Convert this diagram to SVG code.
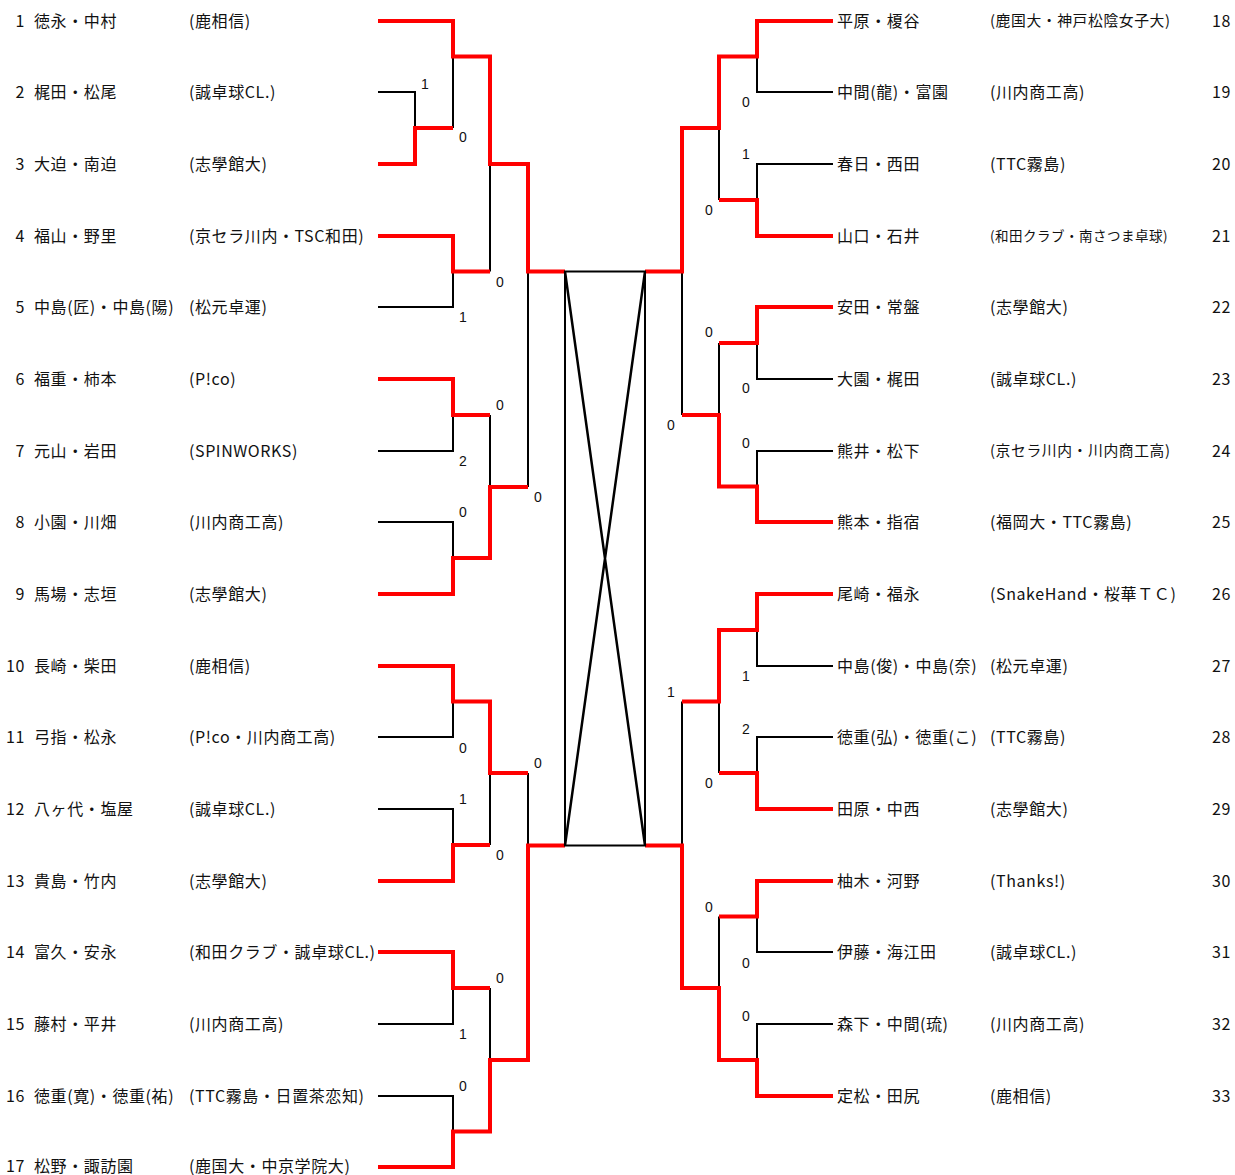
<svg xmlns="http://www.w3.org/2000/svg" width="1235" height="1175" viewBox="0 0 1235 1175">
<style>
.t{font-family:"Noto Sans CJK JP","Noto Sans CJK SC",sans-serif;font-size:16px;letter-spacing:0.6px;fill:#111}
.sm{font-size:13.5px;letter-spacing:0.5px}
.md{font-size:14.8px}
.e{text-anchor:end}
.s{font-family:"Liberation Sans",Arial,sans-serif;font-size:14px;fill:#111;text-anchor:middle}
.k{stroke:#000;stroke-width:2;fill:none}
.r{stroke:#f00;stroke-width:4;fill:none;stroke-linejoin:miter}
.x{stroke:#000;stroke-width:2.5;fill:none}
</style>
<rect width="1235" height="1175" fill="#fff"/>
<g id="connectors">
<g id="black-lines">
<path class="k" d="M378,92H415V128M453,56.5V128M378,307H453V271.5M490,164V271.5M378,451H453V415M490,415V487M378,522H453V558M528,271.5V487M378,737H453V701.5M490,773V845M378,809H453V845M528,773V845.5M378,1024H453V988M490,988V1060M378,1096H453V1131.5"/>
<path class="k" d="M833,92H757V56.5M833,164H757V200M719,128V200M682,271.5V415M833,379H757V343M719,343V415M833,451H757V486.5M833,666H757V630M833,737H757V773M719,701.5V773M682,701.5V845.5M833,952H757V916.5M833,1024H757V1060M719,916.5V988"/>
</g>
<g id="red-lines">
<path class="r" d="M378,21H453V56.5H490V164H528V271.5H565"/>
<path class="r" d="M378,164H415V128H453"/>
<path class="r" d="M378,236H453V271.5H490"/>
<path class="r" d="M378,379H453V415H490"/>
<path class="r" d="M378,594H453V558H490V487H528"/>
<path class="r" d="M378,666H453V701.5H490V773H528"/>
<path class="r" d="M378,881H453V845H490"/>
<path class="r" d="M378,952H453V988H490"/>
<path class="r" d="M378,1167H453V1131.5H490V1060H528V845.5H565"/>
<path class="r" d="M833,21H757V56.5H719V128H682V271.5H645"/>
<path class="r" d="M833,236H757V200H719"/>
<path class="r" d="M833,307H757V343H719"/>
<path class="r" d="M833,522H757V486.5H719V415H682"/>
<path class="r" d="M833,594H757V630H719V701.5H682"/>
<path class="r" d="M833,809H757V773H719"/>
<path class="r" d="M833,881H757V916.5H719"/>
<path class="r" d="M833,1096H757V1060H719V988H682V845.5H645"/>
</g>
<g id="scores">
<text class="s" x="425" y="89">1</text>
<text class="s" x="463" y="142">0</text>
<text class="s" x="500" y="287">0</text>
<text class="s" x="463" y="322">1</text>
<text class="s" x="500" y="410">0</text>
<text class="s" x="463" y="466">2</text>
<text class="s" x="538" y="502">0</text>
<text class="s" x="463" y="517">0</text>
<text class="s" x="463" y="753">0</text>
<text class="s" x="538" y="768">0</text>
<text class="s" x="463" y="804">1</text>
<text class="s" x="500" y="860">0</text>
<text class="s" x="500" y="983">0</text>
<text class="s" x="463" y="1039">1</text>
<text class="s" x="463" y="1091">0</text>
<text class="s" x="746" y="107">0</text>
<text class="s" x="746" y="159">1</text>
<text class="s" x="709" y="215">0</text>
<text class="s" x="709" y="337">0</text>
<text class="s" x="746" y="393">0</text>
<text class="s" x="671" y="430">0</text>
<text class="s" x="746" y="448">0</text>
<text class="s" x="746" y="681">1</text>
<text class="s" x="671" y="697">1</text>
<text class="s" x="746" y="734">2</text>
<text class="s" x="709" y="788">0</text>
<text class="s" x="709" y="912">0</text>
<text class="s" x="746" y="968">0</text>
<text class="s" x="746" y="1021">0</text>
</g>
</g>
<g id="final-box">
<rect class="k" x="565" y="271.5" width="80" height="574"/>
<path class="x" d="M565,271.5L645,845.5M645,271.5L565,845.5"/>
</g>
<g id="p1"><text class="t" y="26.5"><tspan class="e" x="25">1</tspan><tspan x="34">徳永・中村</tspan><tspan x="189">(鹿相信)</tspan></text></g>
<g id="p2"><text class="t" y="97.5"><tspan class="e" x="25">2</tspan><tspan x="34">梶田・松尾</tspan><tspan x="189">(誠卓球CL.)</tspan></text></g>
<g id="p3"><text class="t" y="169.5"><tspan class="e" x="25">3</tspan><tspan x="34">大迫・南迫</tspan><tspan x="189">(志學館大)</tspan></text></g>
<g id="p4"><text class="t" y="241.5"><tspan class="e" x="25">4</tspan><tspan x="34">福山・野里</tspan><tspan x="189">(京セラ川内・TSC和田)</tspan></text></g>
<g id="p5"><text class="t" y="312.5"><tspan class="e" x="25">5</tspan><tspan x="34">中島(匠)・中島(陽)</tspan><tspan x="189">(松元卓運)</tspan></text></g>
<g id="p6"><text class="t" y="384.5"><tspan class="e" x="25">6</tspan><tspan x="34">福重・柿本</tspan><tspan x="189">(P!co)</tspan></text></g>
<g id="p7"><text class="t" y="456.5"><tspan class="e" x="25">7</tspan><tspan x="34">元山・岩田</tspan><tspan x="189">(SPINWORKS)</tspan></text></g>
<g id="p8"><text class="t" y="527.5"><tspan class="e" x="25">8</tspan><tspan x="34">小園・川畑</tspan><tspan x="189">(川内商工高)</tspan></text></g>
<g id="p9"><text class="t" y="599.5"><tspan class="e" x="25">9</tspan><tspan x="34">馬場・志垣</tspan><tspan x="189">(志學館大)</tspan></text></g>
<g id="p10"><text class="t" y="671.5"><tspan class="e" x="25">10</tspan><tspan x="34">長崎・柴田</tspan><tspan x="189">(鹿相信)</tspan></text></g>
<g id="p11"><text class="t" y="742.5"><tspan class="e" x="25">11</tspan><tspan x="34">弓指・松永</tspan><tspan x="189">(P!co・川内商工高)</tspan></text></g>
<g id="p12"><text class="t" y="814.5"><tspan class="e" x="25">12</tspan><tspan x="34">八ヶ代・塩屋</tspan><tspan x="189">(誠卓球CL.)</tspan></text></g>
<g id="p13"><text class="t" y="886.5"><tspan class="e" x="25">13</tspan><tspan x="34">貴島・竹内</tspan><tspan x="189">(志學館大)</tspan></text></g>
<g id="p14"><text class="t" y="957.5"><tspan class="e" x="25">14</tspan><tspan x="34">富久・安永</tspan><tspan x="189">(和田クラブ・誠卓球CL.)</tspan></text></g>
<g id="p15"><text class="t" y="1029.5"><tspan class="e" x="25">15</tspan><tspan x="34">藤村・平井</tspan><tspan x="189">(川内商工高)</tspan></text></g>
<g id="p16"><text class="t" y="1101.5"><tspan class="e" x="25">16</tspan><tspan x="34">徳重(寛)・徳重(祐)</tspan><tspan x="189">(TTC霧島・日置茶恋知)</tspan></text></g>
<g id="p17"><text class="t" y="1171.5"><tspan class="e" x="25">17</tspan><tspan x="34">松野・諏訪園</tspan><tspan x="189">(鹿国大・中京学院大)</tspan></text></g>
<g id="p18"><text class="t" y="26.5"><tspan x="837">平原・榎谷</tspan><tspan class="md" x="990" dy="-0.5">(鹿国大・神戸松陰女子大)</tspan><tspan class="e" x="1231" dy="0.5">18</tspan></text></g>
<g id="p19"><text class="t" y="97.5"><tspan x="837">中間(龍)・富園</tspan><tspan x="990">(川内商工高)</tspan><tspan class="e" x="1231">19</tspan></text></g>
<g id="p20"><text class="t" y="169.5"><tspan x="837">春日・西田</tspan><tspan x="990">(TTC霧島)</tspan><tspan class="e" x="1231">20</tspan></text></g>
<g id="p21"><text class="t" y="241.5"><tspan x="837">山口・石井</tspan><tspan class="sm" x="990" dy="-1">(和田クラブ・南さつま卓球)</tspan><tspan class="e" x="1231" dy="1">21</tspan></text></g>
<g id="p22"><text class="t" y="312.5"><tspan x="837">安田・常盤</tspan><tspan x="990">(志學館大)</tspan><tspan class="e" x="1231">22</tspan></text></g>
<g id="p23"><text class="t" y="384.5"><tspan x="837">大園・梶田</tspan><tspan x="990">(誠卓球CL.)</tspan><tspan class="e" x="1231">23</tspan></text></g>
<g id="p24"><text class="t" y="456.5"><tspan x="837">熊井・松下</tspan><tspan class="md" x="990" dy="-0.5">(京セラ川内・川内商工高)</tspan><tspan class="e" x="1231" dy="0.5">24</tspan></text></g>
<g id="p25"><text class="t" y="527.5"><tspan x="837">熊本・指宿</tspan><tspan x="990">(福岡大・TTC霧島)</tspan><tspan class="e" x="1231">25</tspan></text></g>
<g id="p26"><text class="t" y="599.5"><tspan x="837">尾崎・福永</tspan><tspan x="990">(SnakeHand・桜華ＴＣ)</tspan><tspan class="e" x="1231">26</tspan></text></g>
<g id="p27"><text class="t" y="671.5"><tspan x="837">中島(俊)・中島(奈)</tspan><tspan x="990">(松元卓運)</tspan><tspan class="e" x="1231">27</tspan></text></g>
<g id="p28"><text class="t" y="742.5"><tspan x="837">徳重(弘)・徳重(こ)</tspan><tspan x="990">(TTC霧島)</tspan><tspan class="e" x="1231">28</tspan></text></g>
<g id="p29"><text class="t" y="814.5"><tspan x="837">田原・中西</tspan><tspan x="990">(志學館大)</tspan><tspan class="e" x="1231">29</tspan></text></g>
<g id="p30"><text class="t" y="886.5"><tspan x="837">柚木・河野</tspan><tspan x="990">(Thanks!)</tspan><tspan class="e" x="1231">30</tspan></text></g>
<g id="p31"><text class="t" y="957.5"><tspan x="837">伊藤・海江田</tspan><tspan x="990">(誠卓球CL.)</tspan><tspan class="e" x="1231">31</tspan></text></g>
<g id="p32"><text class="t" y="1029.5"><tspan x="837">森下・中間(琉)</tspan><tspan x="990">(川内商工高)</tspan><tspan class="e" x="1231">32</tspan></text></g>
<g id="p33"><text class="t" y="1101.5"><tspan x="837">定松・田尻</tspan><tspan x="990">(鹿相信)</tspan><tspan class="e" x="1231">33</tspan></text></g>
</svg>
